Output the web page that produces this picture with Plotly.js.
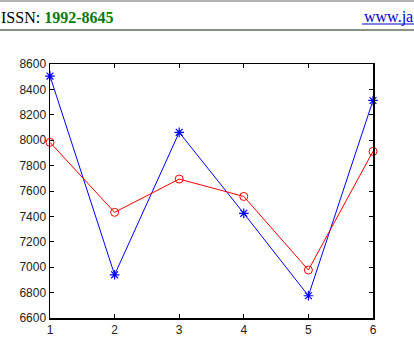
<!DOCTYPE html>
<html>
<head>
<meta charset="utf-8">
<script src="https://cdn.plot.ly/plotly-3.0.1.min.js"></script>
<style>
html,body{margin:0;padding:0;background:#fff;}
#chart{width:414px;height:348px;}
</style>
</head>
<body>
<div id="chart"></div>
<script>
var xValues = [1, 2, 3, 4, 5, 6];
var blueSeries = [8505, 6940, 8062, 7424, 6775, 8313];
var redSeries = [7983, 7432, 7694, 7557, 6978, 7912];
var xTicks = [1, 2, 3, 4, 5, 6];
var yTicks = [6600, 6800, 7000, 7200, 7400, 7600, 7800, 8000, 8200, 8400, 8600];

var traces = [
  {
    x: xValues, y: blueSeries, type: 'scatter', mode: 'lines+markers',
    line: {color: '#0000ff', width: 1},
    marker: {symbol: 'asterisk-open', size: 8, color: '#0000ff', line: {color: '#0000ff', width: 1.2}},
    cliponaxis: false
  },
  {
    x: xValues, y: redSeries, type: 'scatter', mode: 'lines+markers',
    line: {color: '#ff0000', width: 1},
    marker: {symbol: 'circle-open', size: 8, color: '#ff0000', line: {color: '#ff0000', width: 1}},
    cliponaxis: false
  }
];

var layout = {
  width: 414, height: 348,
  margin: {l: 50, r: 41, t: 64, b: 30},
  paper_bgcolor: '#ffffff', plot_bgcolor: '#ffffff',
  showlegend: false,
  font: {family: 'Liberation Sans, Arial, sans-serif', size: 12, color: '#000'},
  xaxis: {
    range: [1, 6], tickvals: xTicks, ticktext: xTicks.map(String),
    ticks: 'inside', ticklen: 4, tickcolor: '#000', tickwidth: 1,
    showline: true, linecolor: '#000', linewidth: 1.5, mirror: 'ticks',
    showgrid: false, zeroline: false, tickfont: {size: 12, color: '#222'}
  },
  yaxis: {
    range: [6600, 8600], tickvals: yTicks, ticktext: yTicks.map(String),
    ticks: 'inside', ticklen: 4, tickcolor: '#000', tickwidth: 1,
    showline: true, linecolor: '#000', linewidth: 1.5, mirror: 'ticks',
    showgrid: false, zeroline: false, tickfont: {size: 12, color: '#222'}
  },
  shapes: [
    {type: 'line', xref: 'paper', yref: 'paper', x0: -0.2, x1: 1.15, y0: 1.248, y1: 1.248,
     line: {color: '#9a9a9a', width: 1.5}},
    {type: 'line', xref: 'paper', yref: 'paper', x0: -0.2, x1: 1.15, y0: 1.134, y1: 1.134,
     line: {color: '#5f6f5f', width: 1.5}},
    {type: 'line', xref: 'paper', yref: 'paper', x0: (362 - 50) / 323, x1: 1.15, y0: (318 - 24) / 254, y1: (318 - 24) / 254,
     line: {color: '#0000cc', width: 1}}
  ],
  annotations: [
    {xref: 'paper', yref: 'paper', x: (-1 - 50) / 323, y: (318 - 17) / 254, xanchor: 'left', yanchor: 'middle',
     showarrow: false, font: {family: 'Liberation Serif, Times New Roman, serif', size: 16, color: '#000'},
     text: 'ISSN: <b><span style="color:#0a7a0a">1992-8645</span></b>'},
    {xref: 'paper', yref: 'paper', x: (362 - 50) / 323, y: (318 - 17) / 254, xanchor: 'left', yanchor: 'middle',
     showarrow: false, font: {family: 'Liberation Serif, Times New Roman, serif', size: 16, color: '#0000cc'},
     text: 'www.ja'}
  ]
};

Plotly.newPlot('chart', traces, layout, {staticPlot: true, displayModeBar: false});
</script>
</body>
</html>
